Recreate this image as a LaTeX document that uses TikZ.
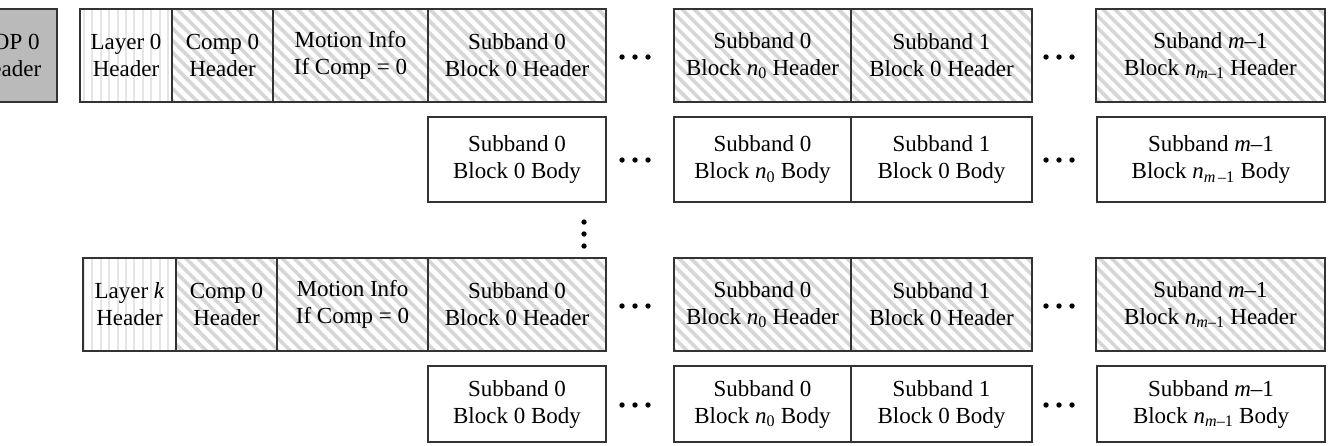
\documentclass[tikz,border=0pt]{standalone}
\usepackage{fontspec}
\setmainfont{Liberation Serif}
\usetikzlibrary{patterns.meta}
\tikzset{
  cell/.style={draw=black!80, line width=1.1pt, inner sep=0pt, outer sep=0pt,
    align=center, anchor=north west, font=\fontsize{23}{27}\selectfont},
  hatch/.style={cell, pattern={Lines[angle=-45,distance=8.5pt,line width=3.6pt]}, pattern color=black!16},
  vlines/.style={cell, pattern={Lines[angle=90,distance=8.4pt,line width=2pt]}, pattern color=black!10},
  plain/.style={cell, fill=white},
  gop/.style={cell, fill=black!27},
  dotfill/.style={fill=black}
}
\newcommand\cellbox[7]{\node[#6, minimum width={#4-#2}, minimum height={#5-#3}] (#1) at (#2,#3) {#7};}
\newcommand\hdots[3]{\foreach \dx in {-13,0,13} \fill[dotfill] ({#1+\dx},#2) circle (2.7pt);}
\begin{document}
\begin{tikzpicture}[x=1pt,y=-1pt]
\useasboundingbox (0,0) rectangle (1332,445);
\clip (0,0) rectangle (1332,445);
% row 1
\cellbox{gop}{-41}{9}{57}{102}{gop}{GOP 0\\Header}
\cellbox{la}{80}{9}{172}{102}{vlines}{Layer 0\\Header}
\cellbox{ca}{172}{9}{273}{102}{hatch}{Comp 0\\Header}
\cellbox{ma}{273}{9}{428}{102}{hatch}{Motion Info\\If Comp = 0}
\cellbox{ha1}{428}{9}{606}{102}{hatch}{Subband 0\\Block 0 Header}
\cellbox{ha2}{674}{9}{851}{102}{hatch}{Subband 0\\Block \textit{n}\textsubscript{0} Header}
\cellbox{ha3}{851}{9}{1032}{102}{hatch}{Subband 1\\Block 0 Header}
\cellbox{ha4}{1096}{9}{1325}{102}{hatch}{Suband \textit{m}–1\\Block \textit{n}\textsubscript{\textit{m}–1} Header}
% row 2
\cellbox{ba1}{428}{117}{606}{202}{plain}{Subband 0\\Block 0 Body}
\cellbox{ba2}{674}{117}{851}{202}{plain}{Subband 0\\Block \textit{n}\textsubscript{0} Body}
\cellbox{ba3}{851}{117}{1032}{202}{plain}{Subband 1\\Block 0 Body}
\cellbox{ba4}{1097}{117}{1325}{202}{plain}{Subband \textit{m}–1\\Block \textit{n}\textsubscript{\textit{m}\,–1} Body}
% row 3
\cellbox{lb}{83}{258}{176}{351}{vlines}{Layer \textit{k}\\Header}
\cellbox{cb}{176}{258}{277}{351}{hatch}{Comp 0\\Header}
\cellbox{mb}{277}{258}{428}{351}{hatch}{Motion Info\\If Comp = 0}
\cellbox{hb1}{428}{258}{606}{351}{hatch}{Subband 0\\Block 0 Header}
\cellbox{hb2}{674}{258}{851}{351}{hatch}{Subband 0\\Block \textit{n}\textsubscript{0} Header}
\cellbox{hb3}{851}{258}{1032}{351}{hatch}{Subband 1\\Block 0 Header}
\cellbox{hb4}{1096}{258}{1325}{351}{hatch}{Suband \textit{m}–1\\Block \textit{n}\textsubscript{\textit{m}–1} Header}
% row 4
\cellbox{bb1}{428}{366}{606}{442}{plain}{Subband 0\\Block 0 Body}
\cellbox{bb2}{674}{366}{851}{442}{plain}{Subband 0\\Block \textit{n}\textsubscript{0} Body}
\cellbox{bb3}{851}{366}{1032}{442}{plain}{Subband 1\\Block 0 Body}
\cellbox{bb4}{1097}{366}{1325}{442}{plain}{Subband \textit{m}–1\\Block \textit{n}\textsubscript{\textit{m}–1} Body}
% dots
\hdots{635}{57}{}
\hdots{1059}{57}{}
\hdots{635}{160}{}
\hdots{1059}{160}{}
\hdots{635}{306}{}
\hdots{1059}{306}{}
\hdots{635}{405}{}
\hdots{1059}{405}{}
\foreach \yy in {222,234,246} \fill[dotfill] (584,\yy) circle (2.7pt);
\end{tikzpicture}
\end{document}
